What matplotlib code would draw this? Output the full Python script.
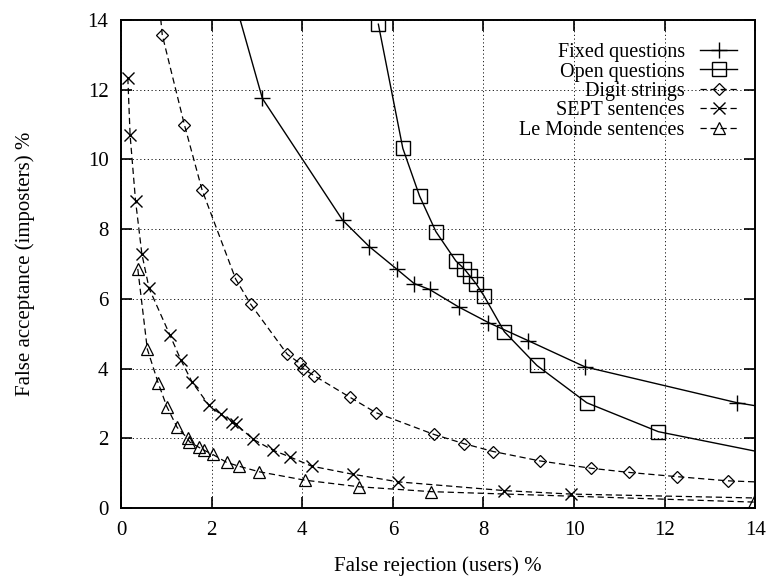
import numpy as np
import matplotlib
matplotlib.use("Agg")
import matplotlib.pyplot as plt

plt.rcParams['font.family'] = ['Liberation Serif', 'DejaVu Serif']
plt.rcParams['font.size'] = 13

# values (points past the frame are clipped)
fixed_x = [2.45, 3.12, 4.89, 5.48, 6.09, 6.47, 6.81, 7.45, 8.11, 8.99, 10.24, 13.60, 15.0]
fixed_y = [14.83, 11.75, 8.26, 7.50, 6.85, 6.44, 6.27, 5.77, 5.32, 4.80, 4.05, 3.02, 2.72]

open_x = [5.68, 6.22, 6.59, 6.95, 7.39, 7.57, 7.70, 7.84, 8.01, 8.46, 9.18, 10.28, 11.86, 15.0]
open_y = [13.88, 10.32, 8.95, 7.93, 7.09, 6.87, 6.66, 6.43, 6.09, 5.06, 4.09, 3.02, 2.19, 1.37]

digit_x = [0.82, 0.91, 1.40, 1.79, 2.53, 2.86, 3.67, 3.95, 4.02, 4.27, 5.05, 5.62, 6.91,
           7.56, 8.22, 9.25, 10.38, 11.22, 12.27, 13.39, 15.0]
digit_y = [14.8, 13.57, 10.99, 9.12, 6.57, 5.85, 4.41, 4.15, 4.00, 3.79, 3.18, 2.74, 2.11,
           1.85, 1.62, 1.35, 1.14, 1.02, 0.90, 0.78, 0.70]

sept_x = [0.15, 0.20, 0.32, 0.46, 0.62, 1.08, 1.32, 1.57, 1.94, 2.20, 2.44, 2.53, 2.92,
          3.35, 3.72, 4.21, 5.11, 6.12, 8.46, 9.93, 15.0]
sept_y = [12.34, 10.70, 8.82, 7.29, 6.30, 4.96, 4.25, 3.61, 2.95, 2.69, 2.48, 2.41, 1.97,
          1.66, 1.47, 1.20, 0.97, 0.75, 0.50, 0.40, 0.26]

monde_x = [0.37, 0.58, 0.82, 1.01, 1.24, 1.47, 1.51, 1.72, 1.83, 2.02, 2.33, 2.60, 3.05,
           4.05, 5.25, 6.84, 13.97]
monde_y = [6.86, 4.56, 3.59, 2.91, 2.31, 2.00, 1.90, 1.74, 1.66, 1.54, 1.31, 1.20, 1.04,
           0.80, 0.61, 0.47, 0.17]

fig = plt.figure(figsize=(7.66, 5.79), dpi=100)
ax = fig.add_axes([0.158, 0.1226, 0.828, 0.8428])

dash = (0, (5, 3))
ax.plot(fixed_x, fixed_y, color='black', lw=1.0, marker='+', ms=11, mew=1.0,
        label='Fixed questions')
ax.plot(open_x, open_y, color='black', lw=1.0, marker='s', ms=10, mew=1.0, mfc='none',
        label='Open questions')
ax.plot(digit_x, digit_y, color='black', lw=0.9, ls=dash, marker='D', ms=6.5, mew=0.9,
        mfc='none', label='Digit strings')
ax.plot(sept_x, sept_y, color='black', lw=0.9, ls=dash, marker='x', ms=8.5, mew=1.0,
        label='SEPT sentences')
ax.plot(monde_x, monde_y, color='black', lw=0.9, ls=dash, marker='^', ms=8, mew=0.9,
        mfc='none', label='Le Monde sentences')

ax.set_xlim(0, 14)
ax.set_ylim(0, 14)
ax.set_xticks(np.arange(0, 15, 2))
ax.set_yticks(np.arange(0, 15, 2))
ax.grid(True, color='black', ls=(0, (1.5, 3)), lw=0.6)
ax.tick_params(direction='in', length=8, width=1.2, top=True, right=True, pad=9,
               labelsize=15)
for s in ax.spines.values():
    s.set_linewidth(1.4)

ax.set_xlabel('False rejection (users) %', fontsize=15, labelpad=12)
ax.set_ylabel('False acceptance (imposters) %', fontsize=15, labelpad=38)

leg = ax.legend(loc='upper right', bbox_to_anchor=(1.0, 0.99), markerfirst=False,
                frameon=False, handlelength=1.85, handletextpad=0.75, labelspacing=0.015,
                fontsize=14.5)

fig.savefig('out.png', dpi=100)
